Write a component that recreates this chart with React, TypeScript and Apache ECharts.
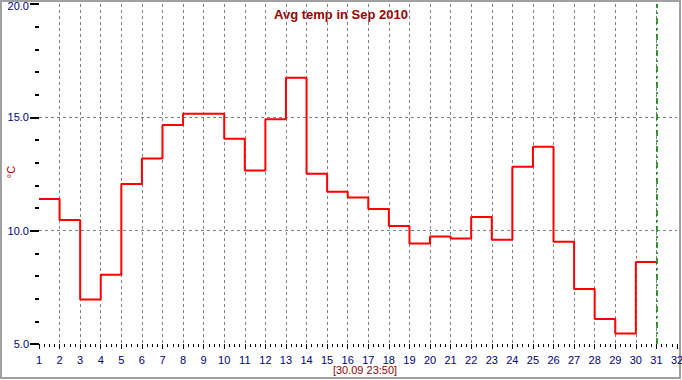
import React, { useEffect, useRef } from "react";
import * as echarts from "echarts";

const days = [1, 2, 3, 4, 5, 6, 7, 8, 9, 10, 11, 12, 13, 14, 15, 16, 17, 18, 19, 20, 21, 22, 23, 24, 25, 26, 27, 28, 29, 30];
const avgTemp = [11.4, 10.47, 6.96, 8.05, 12.06, 13.18, 14.66, 15.16, 15.16, 14.06, 12.65, 14.92, 16.75, 12.51, 11.72, 11.46, 10.96, 10.21, 9.43, 9.74, 9.65, 10.6, 9.6, 12.82, 13.7, 9.51, 7.43, 6.1, 5.46, 8.62];
const periodEnd = 31;
const yMin = 5;
const yMax = 20;
const titleText = "Avg temp in Sep 2010";
const stampText = "[30.09 23:50]";
const unitText = "°C";

export default function App() {
  const ref = useRef<HTMLDivElement>(null);
  useEffect(() => {
    document.body.style.margin = "0";
    const chart = echarts.init(ref.current!, undefined, { renderer: "svg" });
    const pts: number[][] = days.map((d, i) => [d, avgTemp[i]]);
    pts.push([periodEnd, avgTemp[avgTemp.length - 1]]);
    const font = "Liberation Sans, Arial, sans-serif";
    chart.setOption({
      animation: false,
      backgroundColor: "#ffffff",
      grid: {
        left: 39,
        right: 5,
        top: 4,
        bottom: 36,
        containLabel: false,
        outerBoundsMode: "none",
      },
      xAxis: {
        type: "value",
        min: 1,
        max: 32,
        interval: 1,
        axisLine: { show: false },
        axisTick: { show: true, length: 5, lineStyle: { color: "#000", width: 1 } },
        minorTick: { show: true, splitNumber: 4, length: 3, lineStyle: { color: "#000", width: 1 } },
        axisLabel: {
          color: "#000080",
          fontSize: 11,
          fontFamily: font,
          margin: 10,
          hideOverlap: false,
        },
        splitLine: {
          show: true,
          showMinLine: false,
          showMaxLine: false,
          lineStyle: { color: "#808080", type: [3, 3], width: 1 },
        },
      },
      yAxis: {
        type: "value",
        min: yMin,
        max: yMax,
        interval: 5,
        axisLine: { show: false },
        axisTick: { show: true, length: 9, lineStyle: { color: "#000", width: 2 } },
        minorTick: { show: true, splitNumber: 5, length: 4, lineStyle: { color: "#000", width: 2 } },
        axisLabel: {
          color: "#000080",
          fontSize: 11,
          fontFamily: font,
          margin: 10,
          formatter: (v: number) => (v === yMax ? "{top|" + v.toFixed(1) + "}" : v.toFixed(1)),
          rich: {
            top: {
              color: "#000080",
              fontSize: 11,
              fontFamily: font,
              padding: [4, 0, 0, 0],
            },
          },
        },
        splitLine: {
          show: true,
          showMinLine: false,
          showMaxLine: false,
          lineStyle: { color: "#808080", type: [3, 3], width: 1 },
        },
      },
      series: [
        {
          type: "line",
          step: "end",
          data: pts,
          symbol: "none",
          lineStyle: { color: "#ff0000", width: 2 },
          markLine: {
            silent: true,
            symbol: ["none", "none"],
            label: { show: false },
            lineStyle: { color: "#008000", type: [6, 4, 2, 4], width: 1.5 },
            data: [{ xAxis: periodEnd }],
          },
        },
      ],
      graphic: [
        {
          type: "rect",
          shape: { x: 1, y: 1, width: 679, height: 377 },
          style: { fill: "none", stroke: "#a0a0a0", lineWidth: 2 },
          silent: true,
        },
        {
          type: "text",
          x: 341,
          y: 14,
          style: {
            text: titleText,
            fill: "#990000",
            font: "bold 13px " + font,
            textAlign: "center",
            textVerticalAlign: "middle",
          },
        },
        {
          type: "text",
          x: 365,
          y: 370,
          style: {
            text: stampText,
            fill: "#990000",
            font: "11px " + font,
            textAlign: "center",
            textVerticalAlign: "middle",
          },
        },
        {
          type: "text",
          x: 11,
          y: 172,
          rotation: Math.PI / 2,
          style: {
            text: unitText,
            fill: "#990000",
            font: "11px " + font,
            textAlign: "center",
            textVerticalAlign: "middle",
          },
        },
      ],
    });
    return () => chart.dispose();
  }, []);
  return (
    <div
      ref={ref}
      style={{ position: "absolute", left: 0, top: 0, width: 682, height: 380 }}
    />
  );
}
